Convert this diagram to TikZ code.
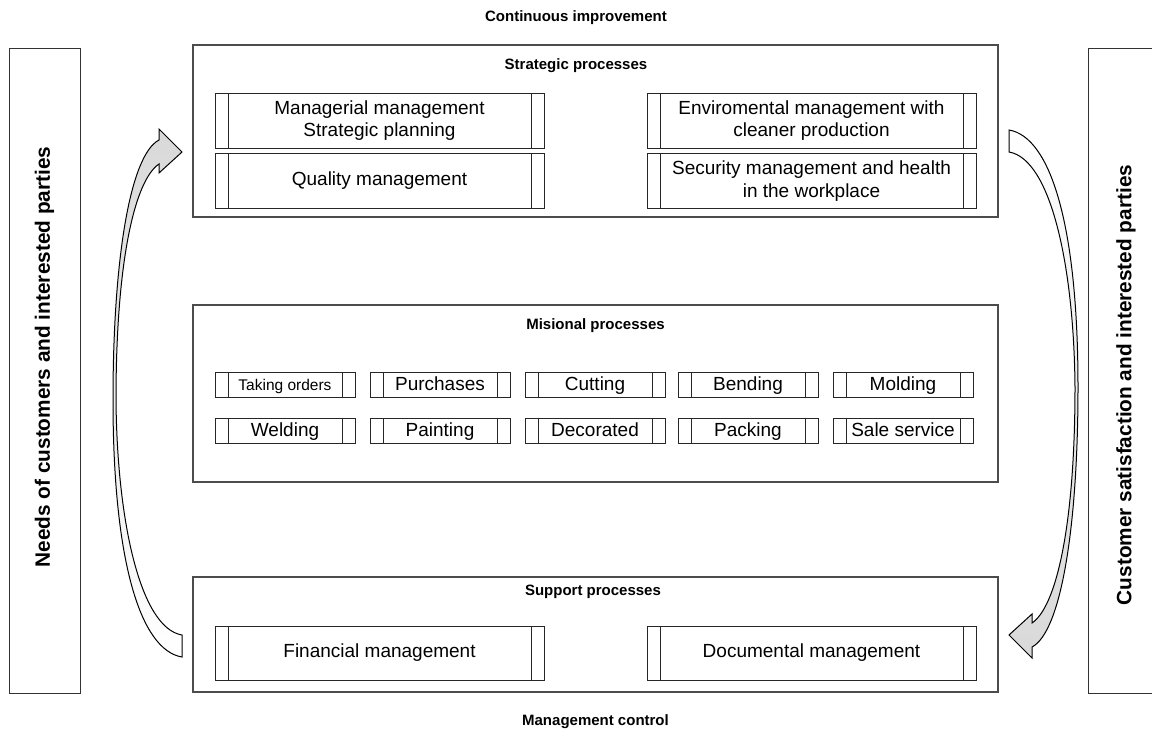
\documentclass[tikz,border=0pt]{standalone}
\usepackage{fontspec}
\setmainfont{Liberation Sans}
\begin{document}
\begin{tikzpicture}[x=0.5pt,y=-0.5pt,
  cont/.style={draw=black!70, line width=0.6pt, minimum width=402.5pt, inner sep=0pt},
  title/.style={font=\bfseries\fontsize{7.5}{9}\selectfont, inner sep=0pt},
  side/.style={font=\bfseries\fontsize{10.4}{12}\selectfont, inner sep=0pt, rotate=90},
  proc/.style={draw=black!85, line width=0.5pt, inner sep=0pt, align=center,
    font=\fontsize{9.5}{11.2}\selectfont,
    path picture={
      \draw[black!85, line width=0.5pt] ([xshift=6.5pt]path picture bounding box.north west) -- ([xshift=6.5pt]path picture bounding box.south west);
      \draw[black!85, line width=0.5pt] ([xshift=-6.5pt]path picture bounding box.north east) -- ([xshift=-6.5pt]path picture bounding box.south east);}},
  bigproc/.style={proc, minimum width=164.5pt, minimum height=27.5pt},
  smallproc/.style={proc, minimum width=70pt, minimum height=12.5pt, text height=8pt, text depth=2pt},
  blockarrow/.style={draw=black, line width=0.5pt}
]
\useasboundingbox (0,0) rectangle (1152,740);

% side boxes
\node[draw=black!80, line width=0.5pt, minimum width=35.5pt, minimum height=322.5pt, inner sep=0pt] (leftbox) at (44.5,370.5) {};
\coordinate (needsc) at (44.5,357);
\node[side] (needs) at (needsc) {Needs of customers and interested parties};
\draw[black!80, line width=0.5pt] (1175,48) -- (1088,48) -- (1088,693) -- (1175,693);
\coordinate (satc) at (1126,385);
\node[side] (sat) at (satc) {Customer satisfaction and interested parties};

% top / bottom labels
\node[title] (ci) at (576,18) {Continuous improvement};
\node[title] (mc) at (595.5,722) {Management control};

% strategic
\node[cont, minimum height=86pt] (str) at (595.5,131) {};
\node[title] (strt) at (576,66) {Strategic processes};
\node[bigproc] (mm) at (379.5,120.5) {Managerial management\\Strategic planning};
\node[bigproc] (qm) at (379.5,181) {Quality management};
\node[bigproc] (env) at (811.5,120.5) {Enviromental management with\\cleaner production};
\node[bigproc] (sec) at (811.5,181) {Security management and health\\in the workplace};

% misional
\node[cont, minimum height=88.5pt] (mis) at (595.5,393.5) {};
\node[title] (mist) at (595.5,326) {Misional processes};
\node[smallproc, font=\fontsize{7.75}{9}\selectfont] (to) at (285,384.5) {Taking orders};
\node[smallproc] (pu) at (440,384.5) {Purchases};
\node[smallproc] (cu) at (595,384.5) {Cutting};
\node[smallproc] (be) at (748,384.5) {Bending};
\node[smallproc] (mo) at (903,384.5) {Molding};
\node[smallproc] (we) at (285,430.5) {Welding};
\node[smallproc] (pa) at (440,430.5) {Painting};
\node[smallproc] (de) at (595,430.5) {Decorated};
\node[smallproc] (pk) at (748,430.5) {Packing};
\node[smallproc] (ss) at (903,430.5) {Sale service};

% support
\node[cont, minimum height=57.5pt] (sup) at (595.5,634.5) {};
\node[title] (supt) at (593,592) {Support processes};
\node[bigproc, minimum height=27pt] (fin) at (379.5,653) {Financial management};
\node[bigproc, minimum height=27pt] (doc) at (811.5,653) {Documental management};

% curved block arrows
\path[blockarrow, top color=black!15, bottom color=white]
  (182,635) .. controls (140,628) and (117,520) .. (116,400)
  .. controls (116,260) and (135,180) .. (159,164)
  -- (159,173) -- (182,152) -- (159,129) -- (159,140)
  .. controls (130,155) and (113,260) .. (113,400)
  .. controls (113,560) and (140,650) .. (182,657) -- cycle;
\path[blockarrow, top color=white, bottom color=black!15]
  (1009,152) .. controls (1051,159) and (1074,267) .. (1075,387)
  .. controls (1075,527) and (1056,607) .. (1032,623)
  -- (1032,614) -- (1009,635) -- (1032,658) -- (1032,647)
  .. controls (1061,632) and (1078,527) .. (1078,387)
  .. controls (1078,227) and (1051,137) .. (1009,130) -- cycle;
\end{tikzpicture}
\end{document}
